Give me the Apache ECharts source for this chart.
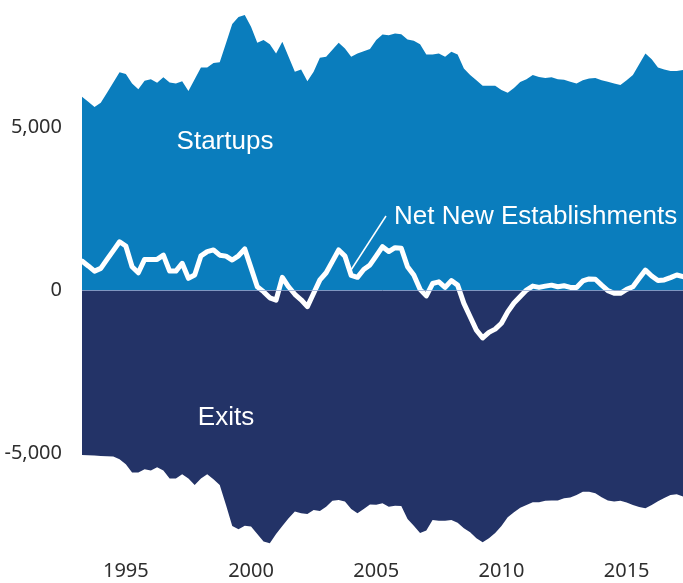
<!DOCTYPE html>
<html>
<head>
<meta charset="utf-8">
<script src="https://cdn.jsdelivr.net/npm/echarts@6/dist/echarts.min.js"></script>
<style>
html,body{margin:0;padding:0;background:#fff;}
#chart{width:683px;height:583px;}
</style>
</head>
<body>
<div id="chart"></div>
<script>
// Quarterly series, 1993 Q2 .. 2017 Q2
var startYear = 1993, startQuarter = 2;
var startups = [
5930,5780,5620,5750,6050,6370,6680,6630,6340,6160,
6420,6470,6360,6530,6370,6340,6410,6110,6470,6830,
6830,6970,6990,7570,8160,8380,8440,8080,7590,7670,
7540,7260,7620,7160,6700,6770,6410,6700,7130,7160,
7370,7590,7410,7160,7260,7330,7400,7670,7840,7820,
7870,7850,7690,7650,7540,7230,7230,7260,7160,7310,
7230,6800,6600,6440,6270,6270,6270,6140,6050,6200,
6380,6470,6600,6540,6510,6530,6470,6450,6390,6340,
6440,6490,6510,6440,6390,6340,6290,6440,6600,6930,
7260,7080,6830,6770,6720,6720,6750
];
var exits = [
-5060,-5070,-5080,-5090,-5100,-5110,-5190,-5350,-5600,-5600,
-5500,-5540,-5440,-5540,-5780,-5780,-5650,-5780,-5980,-5780,
-5650,-5810,-5980,-6600,-7240,-7340,-7230,-7260,-7490,-7720,
-7770,-7490,-7240,-7000,-6800,-6850,-6870,-6750,-6780,-6650,
-6470,-6440,-6490,-6720,-6850,-6720,-6580,-6590,-6540,-6650,
-6620,-6630,-7030,-7230,-7460,-7380,-7060,-7080,-7080,-7060,
-7140,-7310,-7430,-7620,-7740,-7620,-7460,-7240,-6970,-6820,
-6680,-6600,-6510,-6510,-6470,-6460,-6460,-6390,-6370,-6290,
-6190,-6190,-6240,-6360,-6460,-6490,-6470,-6520,-6600,-6660,
-6700,-6600,-6480,-6380,-6290,-6270,-6340
];
var netNew = [
890,740,580,665,940,1210,1480,1350,715,530,
940,940,940,1070,580,580,820,360,460,1050,
1180,1230,1070,1040,920,1050,1260,680,100,-50,
-240,-310,390,100,-130,-300,-510,-100,310,530,
880,1230,1040,450,390,630,770,1050,1330,1180,
1300,1280,715,460,20,-180,200,250,80,290,
150,-410,-820,-1230,-1470,-1300,-1200,-1020,-670,-400,
-200,0,120,80,120,150,100,130,80,80,
280,340,330,150,-20,-100,-100,20,100,360,
610,430,290,310,380,460,410
];
var yTickValues = [-5000, 0, 5000];
var xLabelYears = [1995, 2000, 2005, 2010, 2015];

// quarter category labels
var categories = [];
(function(){
  var y = startYear, q = startQuarter;
  for (var i = 0; i < startups.length; i++) {
    categories.push(y + ' Q' + q);
    q++; if (q > 4) { q = 1; y++; }
  }
})();

var chart = echarts.init(document.getElementById('chart'), null, {renderer: 'canvas'});
var axisFont = '"Noto Sans", "DejaVu Sans", sans-serif';
var labelFont = '"Liberation Sans", Arial, sans-serif';

chart.setOption({
  animation: false,
  backgroundColor: '#ffffff',
  grid: {left: 82, right: 0, top: 0, height: 553},
  xAxis: {
    type: 'category',
    data: categories,
    boundaryGap: false,
    axisLine: {show: false},
    axisTick: {show: false},
    splitLine: {show: false},
    axisLabel: {
      margin: 8,
      color: '#2e2e2e',
      fontSize: 20,
      fontFamily: axisFont,
      interval: function (idx, val) {
        var yr = parseInt(val.slice(0, 4), 10);
        return val.slice(-2) === 'Q1' && xLabelYears.indexOf(yr) >= 0;
      },
      formatter: function (val) { return val.slice(0, 4); }
    }
  },
  yAxis: {
    type: 'value',
    min: -8070,
    max: 8900,
    axisLine: {show: false},
    axisTick: {show: false},
    splitLine: {show: false},
    axisLabel: {
      customValues: yTickValues,
      margin: 20,
      color: '#2e2e2e',
      fontSize: 20,
      fontFamily: axisFont,
      formatter: function (v) { return v.toLocaleString('en-US'); }
    }
  },
  series: [
    {
      name: 'Startups',
      type: 'line',
      data: startups,
      symbol: 'none',
      lineStyle: {width: 0, opacity: 0},
      areaStyle: {color: '#0a7dbd', opacity: 1},
      z: 1
    },
    {
      name: 'Exits',
      type: 'line',
      data: exits,
      symbol: 'none',
      lineStyle: {width: 0, opacity: 0},
      areaStyle: {color: '#233367', opacity: 1},
      markLine: {
        silent: true,
        symbol: 'none',
        label: {show: false},
        lineStyle: {color: 'rgba(150,175,215,0.8)', width: 1, type: 'solid'},
        data: [{yAxis: 0}]
      },
      z: 2
    },
    {
      name: 'Net New Establishments',
      type: 'line',
      data: netNew,
      symbol: 'none',
      lineStyle: {width: 5, color: '#ffffff', join: 'round', cap: 'round'},
      z: 3
    }
  ],
  graphic: [
    {
      type: 'text', z: 10,
      style: {text: 'Startups', x: 225, y: 142, fill: '#ffffff', font: '26px ' + labelFont, align: 'center', verticalAlign: 'middle'}
    },
    {
      type: 'text', z: 10,
      style: {text: 'Exits', x: 226, y: 418, fill: '#ffffff', font: '26px ' + labelFont, align: 'center', verticalAlign: 'middle'}
    },
    {
      type: 'text', z: 10,
      style: {text: 'Net New Establishments', x: 394, y: 217, fill: '#ffffff', font: '26px ' + labelFont, align: 'left', verticalAlign: 'middle'}
    },
    {
      type: 'line', z: 10,
      shape: {x1: 386, y1: 216, x2: 351, y2: 270},
      style: {stroke: '#ffffff', lineWidth: 1.5}
    }
  ]
});
</script>
</body>
</html>
